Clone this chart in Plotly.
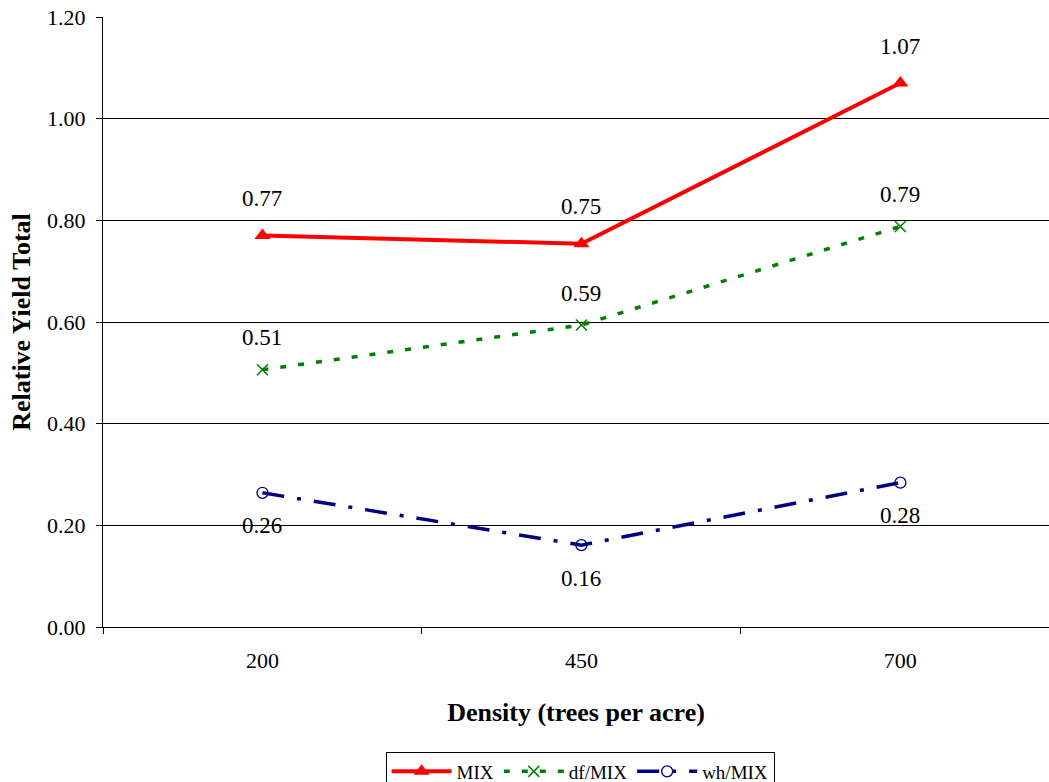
import plotly.graph_objects as go

densities = ["200", "450", "700"]
mix = [0.770, 0.754, 1.070]
df_mix = [0.506, 0.594, 0.788]
wh_mix = [0.264, 0.161, 0.284]

FONT = "Liberation Serif, Times New Roman, serif"

fig = go.Figure()

fig.add_trace(go.Scatter(
    x=densities, y=mix, name="MIX", mode="lines+markers",
    line=dict(color="#ff0000", width=4),
    marker=dict(symbol="triangle-up", size=14, color="#ff0000"),
))
fig.add_trace(go.Scatter(
    x=densities, y=df_mix, name="df/MIX", mode="lines+markers",
    line=dict(color="#008000", width=3.5, dash="6px,12px"),
    marker=dict(symbol="x-thin", size=11, color="#008000",
                line=dict(color="#008000", width=1.5)),
))
fig.add_trace(go.Scatter(
    x=densities, y=wh_mix, name="wh/MIX", mode="lines+markers",
    line=dict(color="#000080", width=3.5, dash="22px,13px,4px,13px"),
    marker=dict(symbol="circle-open", size=11, color="#000080",
                line=dict(color="#000080", width=1.3)),
))

# value labels: above for MIX and df/MIX, below for wh/MIX
for series, shift in ((mix, 37), (df_mix, 32), (wh_mix, -33)):
    for i, yv in enumerate(series):
        fig.add_annotation(x=i, y=yv, xref="x", yref="y", text=f"{yv:.2f}",
                           showarrow=False, yshift=shift,
                           font=dict(family=FONT, size=23, color="black"))

fig.update_layout(
    width=1049, height=782,
    margin=dict(l=103, r=0, t=17, b=155),
    plot_bgcolor="white", paper_bgcolor="white",
    font=dict(family=FONT, size=20, color="black"),
    showlegend=True,
    legend=dict(orientation="h", x=0.553, y=0.039, xref="container", yref="container",
                xanchor="center", yanchor="top",
                bordercolor="black", borderwidth=1, font=dict(family=FONT, size=19),
                itemwidth=60, tracegroupgap=0),
)

fig.update_xaxes(
    type="category", range=[-0.5, 2.466],
    tickson="boundaries", ticks="outside", ticklen=6, tickcolor="black",
    showgrid=False, showline=True, linecolor="black", linewidth=1,
    tickfont=dict(family=FONT, size=22), ticklabelstandoff=14,
    title=dict(text="<b>Density (trees per acre)</b>", font=dict(family=FONT, size=26),
               standoff=30),
)
fig.update_yaxes(
    range=[0, 1.2], dtick=0.2, tickformat=".2f",
    ticks="outside", ticklen=6, tickcolor="black",
    showgrid=True, gridcolor="black", gridwidth=1,
    showline=True, linecolor="black", linewidth=1, zeroline=False,
    tickfont=dict(family=FONT, size=22), ticklabelstandoff=6,
    title=dict(text="<b>Relative Yield Total</b>", font=dict(family=FONT, size=26),
               standoff=8),
)

fig.write_html("out.html")
